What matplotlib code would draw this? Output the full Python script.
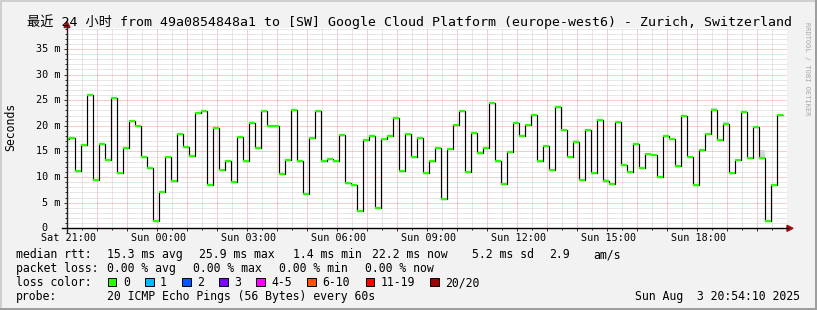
import matplotlib
matplotlib.use("Agg")
import matplotlib.pyplot as plt
import matplotlib.dates as mdates
from matplotlib.patches import Polygon, Rectangle
from matplotlib.lines import Line2D
from matplotlib.ticker import MultipleLocator
from matplotlib.transforms import offset_copy
import pandas as pd

plt.rcParams['font.family'] = ['DejaVu Sans Mono', 'Noto Sans CJK SC']

W, H = 817, 310

# median rtt (ms) per 12 minute step, first one is a partial step
rtt = [17.4,
       17.7, 11.2, 16.2, 26.0, 9.4, 16.5, 13.4, 25.5, 10.8, 15.7,
       21.0, 20.0, 13.9, 11.8, 1.4, 7.1, 13.9, 9.2, 18.4,
       15.9, 14.2, 22.5, 22.9, 8.5, 19.6, 11.4, 13.1, 9.1, 17.9,
       13.1, 20.6, 15.7, 22.9, 20.0, 20.0, 10.6, 13.4, 23.1, 13.1,
       6.6, 17.7, 22.9, 13.1, 13.6, 13.1, 18.2, 8.9, 8.5, 3.4,
       17.3, 18.1, 4.0, 17.5, 18.1, 21.6, 11.2, 18.4, 13.9, 17.7,
       10.8, 13.1, 15.7, 5.7, 15.5, 20.1, 22.9, 11.0, 18.6, 14.7,
       15.7, 24.5, 13.1, 8.7, 14.9, 20.5, 18.1, 20.1, 22.1, 13.1,
       16.0, 11.4, 23.6, 19.2, 14.0, 16.9, 9.5, 19.2, 10.8, 21.2,
       9.2, 8.7, 20.8, 12.3, 11.0, 16.4, 11.8, 14.5, 14.3, 10.1,
       18.0, 17.5, 12.2, 21.9, 14.0, 8.5, 15.3, 18.4, 23.1, 17.3,
       20.4, 10.8, 13.4, 22.7, 13.8, 19.7, 13.8, 1.4, 8.5, 22.2]

# step edges: graph start, then regular 12 min steps
t_begin = pd.Timestamp("2025-08-02 21:00")
t_end = pd.Timestamp("2025-08-03 21:00")
edges = [t_begin] + list(pd.date_range("2025-08-02 21:03:24", periods=120, freq="12min"))

# smoke (spread of the pings) where it is visible above the median
smoke_idx = [85, 90, 108, 110, 116]
smoke_top = [17.3, 9.6, 23.5, 20.8, 15.2]

title = "最近 24 小时 from 49a0854848a1 to [SW] Google Cloud Platform (europe-west6) - Zurich, Switzerland"
rtt_stats = ["15.3 ms avg", "25.9 ms max", "1.4 ms min", "22.2 ms now", "5.2 ms sd", "2.9", "am/s"]
loss_stats = ["0.00 % avg", "0.00 % max", "0.00 % min", "0.00 % now"]
loss_labels = ["0", "1", "2", "3", "4-5", "6-10", "11-19", "20/20"]
loss_colors = ["#26ff00", "#00b8ff", "#0059ff", "#7e00ff", "#ff00ff", "#ff5500", "#ff0000", "#a00000"]
probe_text = "20 ICMP Echo Pings (56 Bytes) every 60s"
stamp = "Sun Aug  3 20:54:10 2025"

# layout (pixels)
rtt_stat_x = [107, 199, 293, 371.5, 471.6, 548.7, 593]
loss_stat_x = [107, 193, 279, 365]
loss_box_x = [108, 145, 182, 219, 256, 307.4, 365.8, 430.4]
row_base = [258.3, 272.3, 286, 300]

def fx(x):
    return x / W

def fy(y):
    return 1 - y / H

fig = plt.figure(figsize=(W / 100, H / 100), dpi=100)
fig.patch.set_facecolor("#f2f2f2")

# plot area: 720 x 200 px
ax = fig.add_axes([fx(67), fy(228.3), 720 / W, 200 / H])
ax.set_facecolor("white")
ymax = 39.04
ax.set_ylim(0, ymax)
ax.set_xlim(mdates.date2num(t_begin), mdates.date2num(t_end))

num_edges = mdates.date2num(edges)

for i, top in zip(smoke_idx, smoke_top):
    ax.fill_between([num_edges[i], num_edges[i + 1]], rtt[i], top,
                    color="#d6d6d6", lw=0, zorder=2)

ax.stairs(rtt, num_edges, baseline=None, color="black", lw=0.85, zorder=3)
ax.hlines(rtt, num_edges[:-1], num_edges[1:], colors="#26ff00", lw=1.6, zorder=4)

# grid
ax.xaxis.set_major_locator(mdates.HourLocator())
ax.xaxis.set_minor_locator(mdates.MinuteLocator(byminute=[30]))
ax.yaxis.set_major_locator(MultipleLocator(5))
ax.yaxis.set_minor_locator(MultipleLocator(1))
ax.grid(True, which="minor", color="#d0d0d0", lw=0.72, ls=(0, (1, 1)), zorder=0)
ax.grid(True, which="major", color="#f29a9a", lw=0.72, ls=(0, (1, 1)), zorder=1)
ax.tick_params(which="both", direction="out", labelbottom=False, labelleft=False,
               color="#333333", width=0.72)
ax.tick_params(which="major", length=2.2)
ax.tick_params(which="minor", length=1.2)
for s in ax.spines.values():
    s.set_visible(False)

# y tick labels
ylab_tr = offset_copy(ax.get_yaxis_transform(), fig=fig, x=-7, y=-3, units="dots")
for v in range(0, 36, 5):
    if v == 0:
        ax.text(0, v, "0  ", transform=ylab_tr, ha="right", va="baseline", fontsize=7.3)
    else:
        ax.text(0, v, f"{v} m", transform=ylab_tr, ha="right", va="baseline", fontsize=7.3)

# x tick labels every 3 hours
for t in pd.date_range(t_begin, t_end, freq="3h")[:-1]:
    fig.text(0, fy(240.7), t.strftime("%a %H:%M"), ha="center", va="baseline", fontsize=7.3,
             transform=offset_copy(fig.transFigure, fig=fig, units="dots",
                                   x=ax.transData.transform((mdates.date2num(t), 0))[0] + 2))

# axis lines and arrows
fig.add_artist(Line2D([fx(62), fx(788)], [fy(228.3), fy(228.3)], color="black", lw=1.0))
fig.add_artist(Line2D([fx(67), fx(67)], [fy(232), fy(25)], color="#202020", lw=1.0))
fig.add_artist(Polygon([(fx(787), fy(225.3)), (fx(787), fy(231.3)), (fx(793), fy(228.3))],
                       closed=True, color="#a01010"))
fig.add_artist(Polygon([(fx(64), fy(27.5)), (fx(70), fy(27.5)), (fx(67), fy(21.5))],
                       closed=True, color="#a01010"))

# texts
fig.text(fx(27), fy(26), title, ha="left", va="baseline", fontsize=9.5)
fig.text(fx(10.7), fy(127), "Seconds", rotation=90, ha="center", va="center", fontsize=8.3)
fig.text(fx(807), fy(22), "RRDTOOL / TOBI OETIKER", rotation=270, ha="center", va="top",
         fontsize=5, color="#a8a8a8")

fig.text(fx(16), fy(row_base[0]), "median rtt:", ha="left", va="baseline", fontsize=8.3)
for s, x in zip(rtt_stats, rtt_stat_x):
    fig.text(fx(x), fy(row_base[0]), s, ha="left", va="baseline", fontsize=8.3)

fig.text(fx(16), fy(row_base[1]), "packet loss:", ha="left", va="baseline", fontsize=8.3)
for s, x in zip(loss_stats, loss_stat_x):
    fig.text(fx(x), fy(row_base[1]), s, ha="left", va="baseline", fontsize=8.3)

fig.text(fx(16), fy(row_base[2]), "loss color:", ha="left", va="baseline", fontsize=8.3)
for lab, col, x in zip(loss_labels, loss_colors, loss_box_x):
    fig.add_artist(Rectangle((fx(x), fy(row_base[2])), 8.5 / W, 8.3 / H,
                             facecolor=col, edgecolor="black", lw=0.7))
    fig.text(fx(x + 15), fy(row_base[2]), lab, ha="left", va="baseline", fontsize=8.3)

fig.text(fx(16), fy(row_base[3]), "probe:", ha="left", va="baseline", fontsize=8.3)
fig.text(fx(107), fy(row_base[3]), probe_text, ha="left", va="baseline", fontsize=8.3)
fig.text(fx(800), fy(row_base[3]), stamp, ha="right", va="baseline", fontsize=8.3)

# 3d border
fig.add_artist(Rectangle((0, 1 - 2 / H), 1, 2 / H, color="#cfcfcf", lw=0))
fig.add_artist(Rectangle((0, 0), 2 / W, 1, color="#cfcfcf", lw=0))
fig.add_artist(Rectangle((0, 0), 1, 2 / H, color="#9e9e9e", lw=0))
fig.add_artist(Rectangle((1 - 2 / W, 0), 2 / W, 1, color="#9e9e9e", lw=0))

fig.savefig("out.png", dpi=100, facecolor=fig.get_facecolor())
